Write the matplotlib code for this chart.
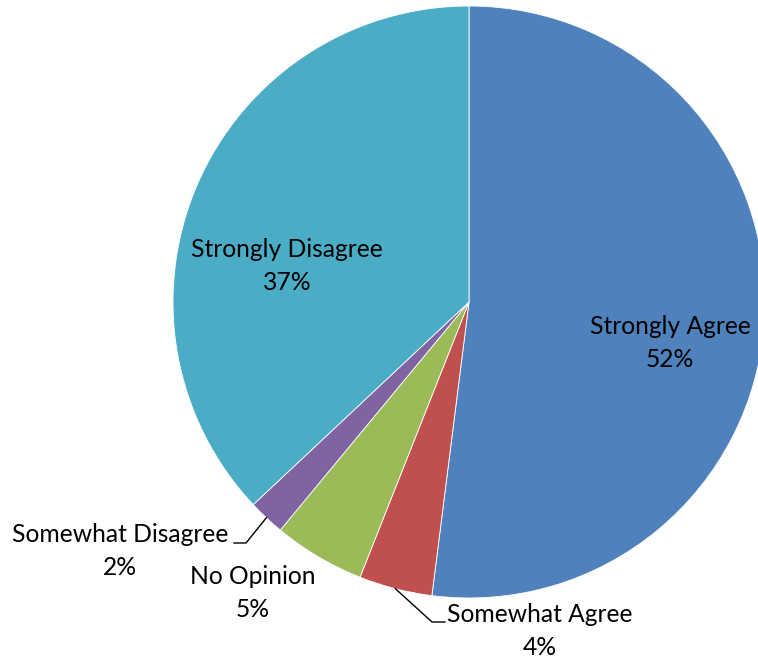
import matplotlib.pyplot as plt
import numpy as np

# survey answers
categories = ["Strongly Agree", "Somewhat Agree", "No Opinion",
              "Somewhat Disagree", "Strongly Disagree"]
shares = [52, 4, 5, 2, 37]
colors = ["#4F81BD", "#C0504D", "#9BBB59", "#8064A2", "#4BACC6"]

W, H = 758, 661
plt.rcParams['font.family'] = ['Lato', 'DejaVu Sans']

fig = plt.figure(figsize=(W / 100, H / 100), dpi=100)
ax = fig.add_axes([0, 0, 1, 1])

# work in pixel units, y measured from the bottom
cx, cy, r = 469, H - 302, 296
wedges, _ = ax.pie(shares, colors=colors, startangle=90, counterclock=False,
                   center=(cx, cy), radius=r,
                   wedgeprops=dict(edgecolor="white", linewidth=0.6))
ax.set_xlim(0, W)
ax.set_ylim(0, H)
ax.set_aspect("equal")
ax.axis("off")

# label placement (pixel coords from top-left) and optional elbow for leader
label_pos = {
    "Strongly Agree": ((670, 343), None),
    "Somewhat Agree": ((540, 631), ((432, 622), (445, 622))),
    "No Opinion": ((253, 593), None),
    "Somewhat Disagree": ((120, 551), ((246, 543), (234, 543))),
    "Strongly Disagree": ((287, 266), None),
}

for w, cat, val in zip(wedges, categories, shares):
    (px, py), elbow = label_pos[cat]
    ax.text(px, H - py, f"{cat}\n{val}%", ha="center", va="center",
            fontsize=17.7, color="black", linespacing=1.5)
    if elbow is not None:
        mid = np.deg2rad((w.theta1 + w.theta2) / 2)
        sx = cx + r * np.cos(mid)
        sy = cy + r * np.sin(mid)
        xs = [sx, elbow[0][0], elbow[1][0]]
        ys = [sy, H - elbow[0][1], H - elbow[1][1]]
        ax.plot(xs, ys, color="black", linewidth=1)

fig.savefig("out.png", dpi=100)
